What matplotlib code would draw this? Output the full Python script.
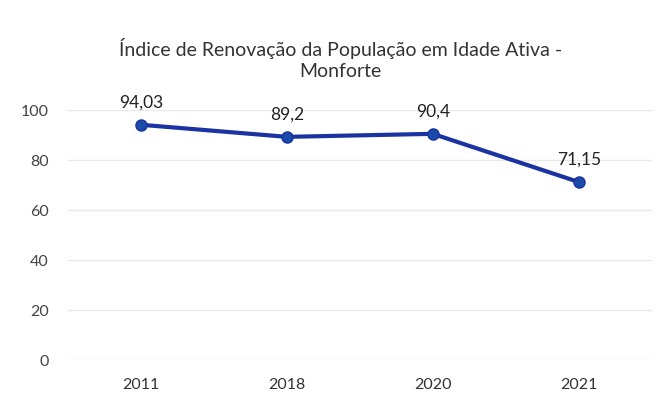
import matplotlib
matplotlib.use("Agg")
import matplotlib.pyplot as plt

years = ["2011", "2018", "2020", "2021"]
values = [94.03, 89.2, 90.4, 71.15]
labels = ["94,03", "89,2", "90,4", "71,15"]
yticks = [0, 20, 40, 60, 80, 100]

plt.rcParams['font.family'] = ['Lato', 'DejaVu Sans']

fig = plt.figure(figsize=(6.67, 4.06), dpi=100)
ax = fig.add_axes([0.102, 0.111, 0.875, 0.616])

x = list(range(len(years)))
ax.plot(x, values, color="#1a33a0", linewidth=3, marker="o", markersize=8,
        markerfacecolor="#1c4aa8", markeredgecolor="#1a33a0", zorder=3, clip_on=False)
for xi, v, lab in zip(x, values, labels):
    ax.annotate(lab, (xi, v), xytext=(0, 11), textcoords="offset points",
                ha="center", va="bottom", fontsize=12.5, color="#222222")

ax.set_xlim(-0.5, len(years) - 0.5)
ax.set_ylim(0, 100)
ax.set_xticks(x)
ax.set_xticklabels(years, fontsize=11.5, color="#333333")
ax.set_yticks(yticks)
ax.set_yticklabels([str(t) for t in yticks], fontsize=11.5, color="#444444")
ax.grid(axis="y", color="#e8e8e8", linewidth=1)
ax.set_axisbelow(True)
for s in ax.spines.values():
    s.set_visible(False)
ax.tick_params(length=0, pad=14)
ax.tick_params(axis="x", pad=12)

fig.text(0.51, 0.855, "Índice de Renovação da População em Idade Ativa -\nMonforte",
         ha="center", va="center", fontsize=14, color="#333333", linespacing=1.25)

fig.savefig("out.png", dpi=100, facecolor="white")
